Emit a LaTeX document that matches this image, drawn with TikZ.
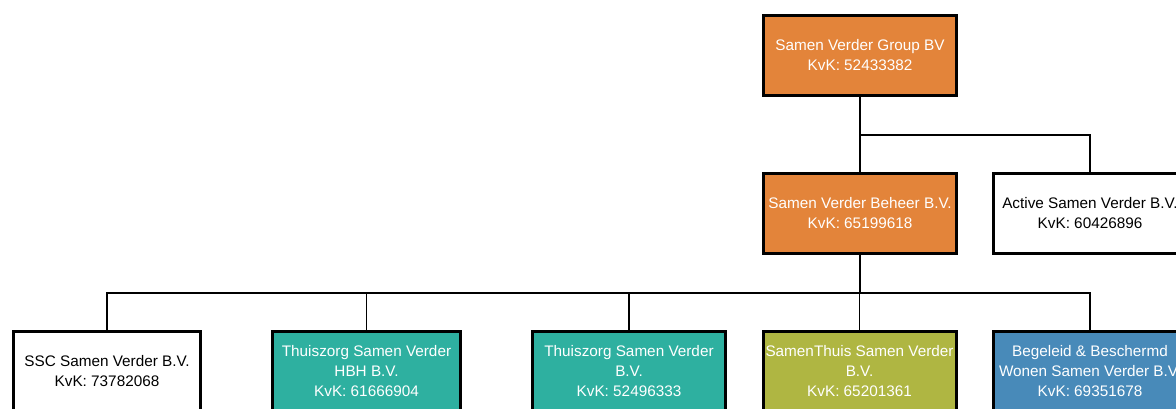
\documentclass[tikz,border=0pt]{standalone}
\usepackage{fontspec}
\setsansfont{Liberation Sans}
\definecolor{svorange}{RGB}{227,132,58}
\definecolor{svteal}{RGB}{46,176,160}
\definecolor{svolive}{RGB}{175,182,66}
\definecolor{svblue}{RGB}{72,138,185}
\tikzset{
	entity/.style={draw, line width=3pt, minimum width=193pt, minimum height=80pt,
		inner sep=0pt, align=center, font=\sffamily\fontsize{15.3}{20}\selectfont},
	colored/.style={entity, fill=#1, text=white},
	link/.style={line width=1.5pt}
}
\begin{document}
\begin{tikzpicture}[x=1pt, y=-1pt]
	\path[use as bounding box, clip] (0, 0) rectangle (1176, 408);
	\fill[white] (0, 0) rectangle (1176, 408);
	% top levels
	\node[colored=svorange] (grp) at (860, 55.5) {Samen Verder Group BV\\KvK: 52433382};
	\node[colored=svorange] (beh) at (860, 213.5) {Samen Verder Beheer B.V.\\KvK: 65199618};
	\node[entity] (act) at (1090, 213.5) {Active Samen Verder B.V.\\KvK: 60426896};
	% subsidiaries
	\node[entity, minimum width=187pt] (ssc) at (107, 371) {SSC Samen Verder B.V.\\KvK: 73782068};
	\node[colored=svteal, minimum width=188pt] (hbh) at (366.5, 371) {Thuiszorg Samen Verder\\HBH B.V.\\KvK: 61666904};
	\node[colored=svteal] (tzg) at (629, 371) {Thuiszorg Samen Verder\\B.V.\\KvK: 52496333};
	\node[colored=svolive] (sth) at (859.5, 371) {SamenThuis Samen Verder\\B.V.\\KvK: 65201361};
	\node[colored=svblue] (beg) at (1090, 371) {Begeleid \& Beschermd\\Wonen Samen Verder B.V.\\KvK: 69351678};
	% connectors
	\coordinate (split1) at (860, 135);
	\coordinate (split2) at (860, 293);
	\draw[link] (grp.south) -- (beh.north);
	\draw[link] (split1) -| (act.north);
	\draw[link] (beh.south) -- (split2);
	\foreach \c in {ssc, hbh, tzg, sth, beg}
		\draw[link] (split2) -| (\c.north);
\end{tikzpicture}
\end{document}
